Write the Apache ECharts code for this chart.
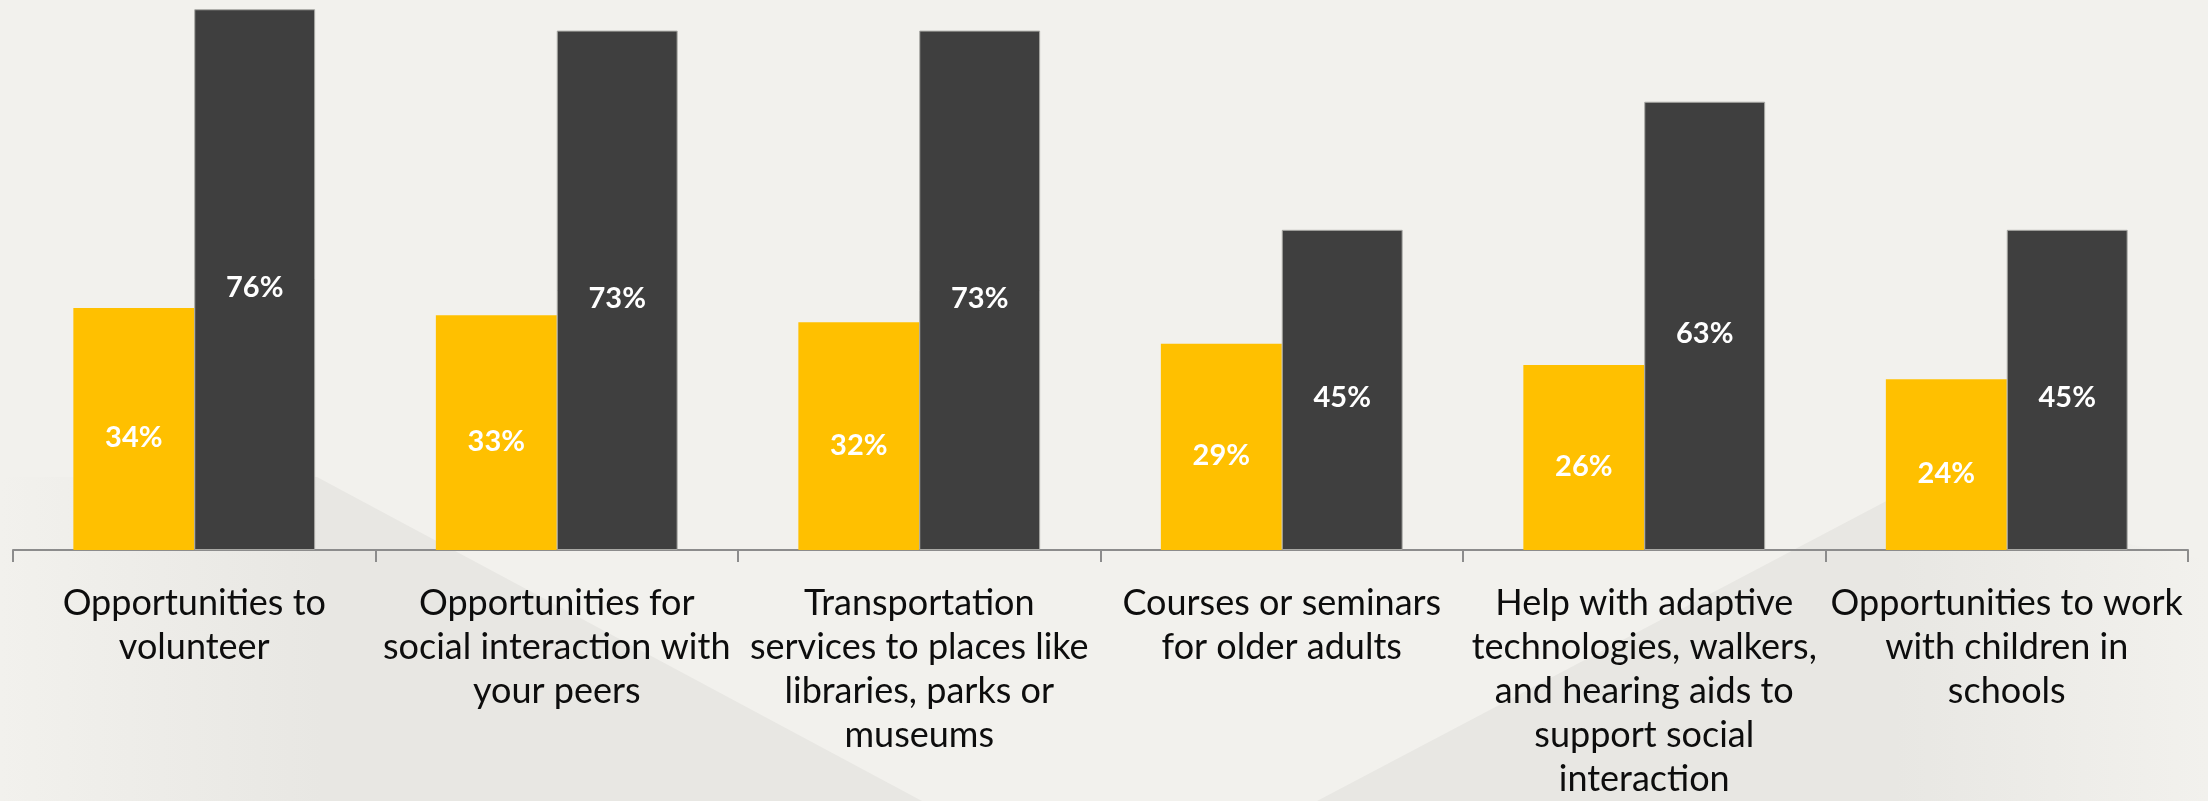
<!DOCTYPE html>
<html>
<head>
<meta charset="utf-8">
<style>
  html, body { margin: 0; padding: 0; background: #f2f1ed; }
  #chart { width: 2208px; height: 801px; }
</style>
<script src="https://cdn.jsdelivr.net/npm/echarts@6/dist/echarts.min.js"></script>
</head>
<body>
<div id="chart"></div>
<script>
// categories as shown on the axis (line breaks as in the picture)
const categories = [
  'Opportunities to\nvolunteer',
  'Opportunities for\nsocial interaction with\nyour peers',
  'Transportation\nservices to places like\nlibraries, parks or\nmuseums',
  'Courses or seminars\nfor older adults',
  'Help with adaptive\ntechnologies, walkers,\nand hearing aids to\nsupport social\ninteraction',
  'Opportunities to work\nwith children in\nschools'
]
const goldValues = [34, 33, 32, 29, 26, 24]
const darkValues = [76, 73, 73, 45, 63, 45]

const chart = echarts.init(document.getElementById('chart'))

chart.setOption({
  backgroundColor: '#f2f1ed',
  animation: false,
  // faint decorative wedges in the background
  graphic: [
    {
      type: 'polygon',
      z: -10,
      shape: { points: [[317, 477], [922, 801], [0, 801], [0, 477]] },
      style: {
        fill: new echarts.graphic.LinearGradient(0, 0, 1, 0, [
          { offset: 0, color: 'rgba(232,231,227,0)' },
          { offset: 0.35, color: 'rgba(232,231,227,1)' },
          { offset: 1, color: 'rgba(232,231,227,1)' }
        ])
      }
    },
    {
      type: 'polygon',
      z: -10,
      shape: { points: [[1317, 801], [1894, 497], [2208, 560], [2208, 801]] },
      style: {
        fill: new echarts.graphic.LinearGradient(0, 0, 1, 0, [
          { offset: 0, color: 'rgba(232,231,227,1)' },
          { offset: 0.65, color: 'rgba(232,231,227,1)' },
          { offset: 1, color: 'rgba(232,231,227,0)' }
        ])
      }
    }
  ],
  grid: {
    left: 13,
    right: 20,
    top: 0,
    bottom: 247,
    containLabel: false
  },
  xAxis: {
    type: 'category',
    data: categories,
    axisLine: {
      lineStyle: { color: '#8c8c8c', width: 2 }
    },
    axisTick: {
      show: true,
      length: 12,
      lineStyle: { color: '#8c8c8c', width: 2 }
    },
    axisLabel: {
      interval: 0,
      margin: 31,
      color: '#0d0d0d',
      fontFamily: 'Lato',
      fontSize: 36,
      lineHeight: 44,
      align: 'center'
    }
  },
  yAxis: {
    type: 'value',
    min: 0,
    max: 77.3,
    show: false,
    splitLine: { show: false }
  },
  series: [
    {
      name: 'gold',
      type: 'bar',
      data: goldValues,
      barGap: '0%',
      barCategoryGap: '33.3%',
      itemStyle: { color: '#ffc000' },
      label: {
        show: true,
        position: 'inside',
        formatter: '{c}%',
        color: '#ffffff',
        fontFamily: 'Lato',
        fontWeight: 'bold',
        fontSize: 29,
        offset: [0, 9]
      }
    },
    {
      name: 'dark',
      type: 'bar',
      data: darkValues,
      barGap: '0%',
      barCategoryGap: '33.3%',
      itemStyle: { color: '#3f3f3f', borderColor: '#a9a9a5', borderWidth: 1 },
      label: {
        show: true,
        position: 'inside',
        formatter: '{c}%',
        color: '#ffffff',
        fontFamily: 'Lato',
        fontWeight: 'bold',
        fontSize: 29,
        offset: [0, 8]
      }
    }
  ]
})
</script>
</body>
</html>
